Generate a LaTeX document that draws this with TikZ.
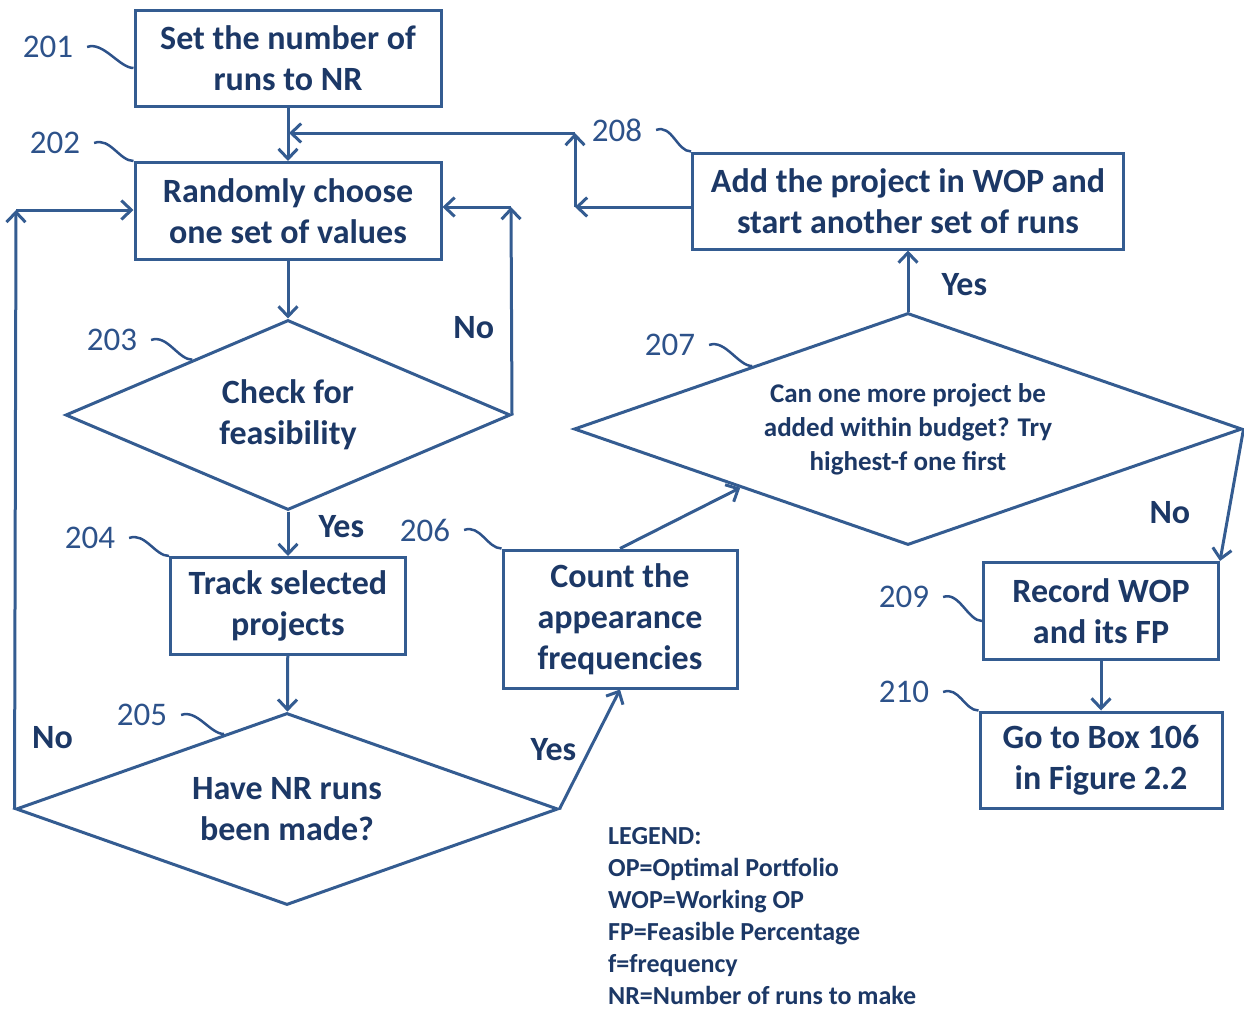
\documentclass[tikz,border=0pt]{standalone}
\usepackage{fontspec}
\setmainfont{Carlito}
\usetikzlibrary{arrows.meta, shapes.geometric}
\definecolor{flowline}{RGB}{52,92,145}
\definecolor{flowtext}{RGB}{28,56,102}
\definecolor{refblue}{RGB}{45,82,138}

\begin{document}
\begin{tikzpicture}[x=1pt, y=-1pt, >={Straight Barb[length=10pt,width=19pt]},
        box/.style={rectangle, draw=flowline, line width=3pt, text=flowtext, align=center, inner sep=0pt, font=\bfseries\fontsize{34}{41}\selectfont},
        decision/.style={diamond, draw=flowline, line width=3pt, text=flowtext, align=center, inner sep=0pt, font=\bfseries\fontsize{34}{41}\selectfont},
        flow/.style={draw=flowline, line width=3pt, ->},
        answer/.style={text=flowtext, inner sep=0pt, font=\bfseries\fontsize{34}{41}\selectfont},
        refnum/.style={text=refblue, inner sep=0pt, outer xsep=14pt, outer ysep=0pt, font=\fontsize{33}{40}\selectfont},
        lead/.style={draw=refblue, line width=2.5pt},
        legendtext/.style={text=flowtext, align=left, inner sep=0pt, font=\bfseries\fontsize{26}{32}\selectfont}]

        \useasboundingbox (0,0) rectangle (1244,1010);

        % boxes and decisions
        \node (n201) [box, minimum width=306pt, minimum height=96pt] at (288,58) {Set the number of\\runs to NR};
        \node (n202) [box, minimum width=306pt, minimum height=97pt] at (288,211) {Randomly choose\\one set of values};
        \node (n203) [decision, minimum width=445pt, minimum height=190pt, aspect=2.3] at (288,415) {Check for\\feasibility};
        \node (n204) [box, minimum width=235pt, minimum height=97pt] at (288,606) {Track selected\\projects};
        \node (n205) [decision, minimum width=542pt, minimum height=192pt, aspect=2.8] at (287,809) {Have NR runs\\been made?};
        \node (n206) [box, minimum width=234pt, minimum height=138pt] at (620,619) {Count the\\appearance\\frequencies};
        \node (n207) [decision, minimum width=668pt, minimum height=232pt, aspect=2.9, font=\bfseries\fontsize{27}{34}\selectfont] at (908,429) {Can one more project be\\added within budget? Try\\highest-f one first};
        \node (n208) [box, minimum width=431pt, minimum height=96pt] at (908,201) {Add the project in WOP and\\start another set of runs};
        \node (n209) [box, minimum width=235pt, minimum height=97pt] at (1101,611) {Record WOP\\and its FP};
        \node (n210) [box, minimum width=242pt, minimum height=96pt] at (1101,760) {Go to Box 106\\in Figure 2.2};

        % reference numbers
        \node (l201) [refnum] at (48,47) {201};
        \node (l202) [refnum] at (55,143) {202};
        \node (l203) [refnum] at (112,340) {203};
        \node (l204) [refnum] at (90,538) {204};
        \node (l205) [refnum] at (142,715) {205};
        \node (l206) [refnum] at (425,530) {206};
        \node (l207) [refnum] at (670,345) {207};
        \node (l208) [refnum] at (617,130) {208};
        \node (l209) [refnum] at (904,597) {209};
        \node (l210) [refnum] at (904,692) {210};

        \draw[lead] (l201.east) .. controls +(16,-6) and +(-14,0) .. ([yshift=-10pt]n201.west);
        \draw[lead] (l202.east) .. controls +(16,-6) and +(-14,0) .. (n202.north west);
        \draw[lead] (l203.east) .. controls +(16,-6) and +(-14,0) .. (n203.150);
        \draw[lead] (l204.east) .. controls +(16,-6) and +(-14,0) .. (n204.north west);
        \draw[lead] (l205.east) .. controls +(16,-6) and +(-14,0) .. (n205.130);
        \draw[lead] (l206.east) .. controls +(16,-6) and +(-14,0) .. (n206.north west);
        \draw[lead] (l207.east) .. controls +(16,-6) and +(-14,0) .. (n207.158);
        \draw[lead] (l208.east) .. controls +(16,-6) and +(-14,0) .. (n208.north west);
        \draw[lead] (l209.east) .. controls +(16,-6) and +(-14,0) .. ([yshift=-10pt]n209.west);
        \draw[lead] (l210.east) .. controls +(16,-6) and +(-14,0) .. (n210.north west);

        % corners of the loops
        \coordinate (c208a) at (575,207);
        \coordinate (c208b) at (575,133);
        \coordinate (c208c) at (289,133);
        \coordinate (c203) at (511,207);
        \coordinate (c205) at (16,210);

        % connectors
        \draw[flow] (n201) -- (n202);
        \draw[flow] (n202) -- (n203);
        \draw[flow] (n203.east) -- node[answer, left=16pt, pos=0.42] (a203no) {No} (c203);
        \draw[flow] (c203) -- (n202.east |- c203);
        \draw[flow] (n203) -- node[answer, right=29pt, pos=0.35] (a203yes) {Yes} (n204);
        \draw[flow] (n204) -- (n205);
        \draw[flow] (n205.west) -- node[answer, right=16pt, pos=0.12] (a205no) {No} (c205);
        \draw[flow] (c205) -- (n202.west |- c205);
        \draw[flow] (n205.east) -- node[answer, left=12pt] (a205yes) {Yes} (n206.south);
        \draw[flow] (n206.north) -- (n207.south west);
        \draw[flow] (n207) -- node[answer, right=32pt, pos=0.44] (a207yes) {Yes} (n208);
        \draw[flow] (n207.east) -- node[answer, left=37pt, pos=0.63] (a207no) {No} (n209.north east);
        \draw[flow] (n209) -- (n210);
        \draw[flow] (n208.west |- c208a) -- (c208a);
        \draw[flow] (c208a) -- (c208b);
        \draw[flow] (c208b) -- (c208c);

        % legend
        \node (legend) [legendtext, anchor=north west] at (608,827) {LEGEND:\\OP=Optimal Portfolio\\WOP=Working OP\\FP=Feasible Percentage\\f=frequency\\NR=Number of runs to make};
    \end{tikzpicture}
\end{document}
